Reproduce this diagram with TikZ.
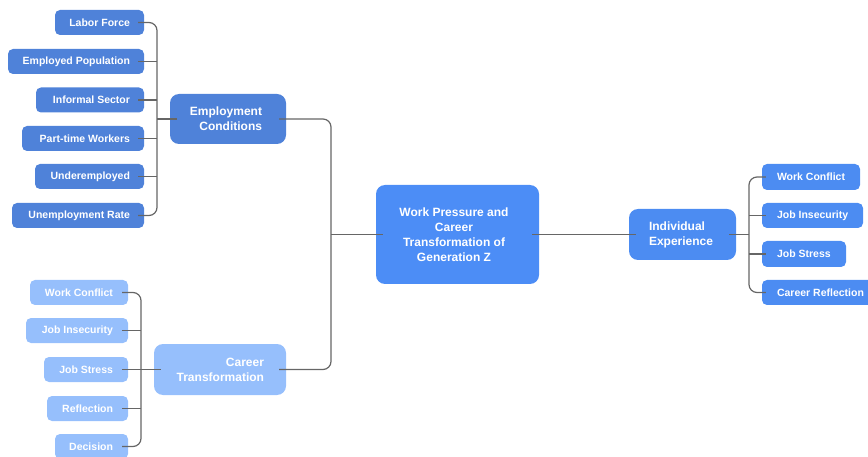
\documentclass[tikz,border=0pt]{standalone}
\usepackage{fontspec}
\setmainfont{Liberation Sans}
\definecolor{cdark}{HTML}{4F82D9}
\definecolor{cmain}{HTML}{4C8DF6}
\definecolor{cright}{HTML}{4C8CF2}
\definecolor{clight}{HTML}{96BFFC}
\definecolor{cline}{HTML}{666666}
\tikzset{
  boxbase/.style={rounded corners=5pt, inner sep=0pt, draw=none},
  bigbox/.style={rounded corners=9pt, inner sep=0pt, draw=none},
  lbl/.style={text=white, font=\bfseries\fontsize{10.5}{12}\selectfont, inner sep=0pt},
  biglbl/.style={text=white, font=\bfseries\fontsize{12}{15}\selectfont, inner sep=0pt},
  conn/.style={draw=cline, line width=1.2pt, rounded corners=8pt},
}
\begin{document}
\begin{tikzpicture}[x=1pt,y=-1pt]
\useasboundingbox (0,0) rectangle (868,457);
% left top leaves
\node[boxbase, fill=cdark, minimum width=89, minimum height=25] (lf) at (99.5,22.5) {};
\node[boxbase, fill=cdark, minimum width=136, minimum height=25] (ep) at (76,61.5) {};
\node[boxbase, fill=cdark, minimum width=108, minimum height=25] (is) at (90,100) {};
\node[boxbase, fill=cdark, minimum width=122, minimum height=25] (pt) at (83,138.5) {};
\node[boxbase, fill=cdark, minimum width=109, minimum height=25] (ue) at (89.5,176.5) {};
\node[boxbase, fill=cdark, minimum width=132, minimum height=25] (ur) at (78,215.5) {};
\node[lbl, anchor=east] (lft) at ([xshift=-14pt]lf.east) {Labor Force};
\node[lbl, anchor=east] (ept) at ([xshift=-14pt]ep.east) {Employed Population};
\node[lbl, anchor=east] (ist) at ([xshift=-14pt]is.east) {Informal Sector};
\node[lbl, anchor=east] (ptt) at ([xshift=-14pt]pt.east) {Part-time Workers};
\node[lbl, anchor=east] (uet) at ([xshift=-14pt]ue.east) {Underemployed};
\node[lbl, anchor=east] (urt) at ([xshift=-14pt]ur.east) {Unemployment Rate};
% employment conditions
\node[bigbox, fill=cdark, minimum width=116, minimum height=50] (ec) at (228,119) {};
\node[biglbl, anchor=east, align=right] (ect) at ([xshift=-24pt]ec.east) {Employment\\Conditions};
% career transformation
\node[bigbox, fill=clight, minimum width=132, minimum height=51] (ct) at (220,369.5) {};
\node[biglbl, anchor=east, align=right] (ctt) at ([xshift=-22pt]ct.east) {Career\\Transformation};
% bottom-left leaves
\node[boxbase, fill=clight, minimum width=98, minimum height=25] (bwc) at (79,292.5) {};
\node[boxbase, fill=clight, minimum width=102, minimum height=25] (bji) at (77,330.5) {};
\node[boxbase, fill=clight, minimum width=84, minimum height=25] (bjs) at (86,369.5) {};
\node[boxbase, fill=clight, minimum width=81, minimum height=25] (bre) at (87.5,408.5) {};
\node[boxbase, fill=clight, minimum width=73, minimum height=25] (bde) at (91.5,446.5) {};
\node[lbl, anchor=east] (bwct) at ([xshift=-15pt]bwc.east) {Work Conflict};
\node[lbl, anchor=east] (bjit) at ([xshift=-15pt]bji.east) {Job Insecurity};
\node[lbl, anchor=east] (bjst) at ([xshift=-15pt]bjs.east) {Job Stress};
\node[lbl, anchor=east] (bret) at ([xshift=-15pt]bre.east) {Reflection};
\node[lbl, anchor=east] (bdet) at ([xshift=-15pt]bde.east) {Decision};
% center
\node[bigbox, fill=cmain, minimum width=163, minimum height=99] (wp) at (457.5,234.5) {};
\node[biglbl, align=center] (wpt) at (454,234.5) {Work Pressure and\\Career\\Transformation of\\Generation Z};
% individual experience
\node[bigbox, fill=cright, minimum width=107, minimum height=51] (ie) at (682.5,234.5) {};
\node[biglbl, anchor=west, align=left] (iet) at ([xshift=20pt]ie.west) {Individual\\Experience};
% right leaves
\node[boxbase, fill=cright, minimum width=98, minimum height=26] (rwc) at (811,177) {};
\node[boxbase, fill=cright, minimum width=101, minimum height=25] (rji) at (812.5,215.5) {};
\node[boxbase, fill=cright, minimum width=84, minimum height=26] (rjs) at (804,254) {};
\node[boxbase, fill=cright, minimum width=112, minimum height=25] (rcr) at (818,292.5) {};
\node[lbl, anchor=west] (rwct) at ([xshift=15pt]rwc.west) {Work Conflict};
\node[lbl, anchor=west] (rjit) at ([xshift=15pt]rji.west) {Job Insecurity};
\node[lbl, anchor=west] (rjst) at ([xshift=15pt]rjs.west) {Job Stress};
\node[lbl, anchor=west] (rcrt) at ([xshift=15pt]rcr.west) {Career Reflection};
% spine coordinates
\coordinate (sL) at (157,119);
\coordinate (sB) at (141,369.5);
\coordinate (sC) at (331,234.5);
\coordinate (sR) at (749,234.5);
% connectors: employment group
\draw[conn] ([xshift=-6pt]lf.east) -| (sL) |- ([xshift=-6pt]ur.east);
\draw[conn] ([xshift=-6pt]ep.east) -- (ep.east -| sL);
\draw[conn] ([xshift=-6pt]is.east) -- (is.east -| sL);
\draw[conn] ([xshift=-6pt]pt.east) -- (pt.east -| sL);
\draw[conn] ([xshift=-6pt]ue.east) -- (ue.east -| sL);
\draw[conn] (sL) -- ([xshift=7pt]ec.west);
% bottom-left group
\draw[conn] ([xshift=-6pt]bwc.east) -| (sB) |- ([xshift=-6pt]bde.east);
\draw[conn] ([xshift=-6pt]bji.east) -- (bji.east -| sB);
\draw[conn] ([xshift=-6pt]bjs.east) -- (bjs.east -| sB);
\draw[conn] ([xshift=-6pt]bre.east) -- (bre.east -| sB);
\draw[conn] (sB) -- ([xshift=7pt]ct.west);
% center spine
\draw[conn] ([xshift=-7pt]ec.east) -| (sC) |- ([xshift=-7pt]ct.east);
\draw[conn] (sC) -- ([xshift=7pt]wp.west);
\draw[conn] ([xshift=-7pt]wp.east) -- ([xshift=7pt]ie.west);
% right group
\draw[conn] ([xshift=-7pt]ie.east) -- (sR);
\draw[conn] ([xshift=4pt]rwc.west) -| (sR) |- ([xshift=4pt]rcr.west);
\draw[conn] ([xshift=4pt]rji.west) -- (rji.west -| sR);
\draw[conn] ([xshift=4pt]rjs.west) -- (rjs.west -| sR);
\end{tikzpicture}
\end{document}
